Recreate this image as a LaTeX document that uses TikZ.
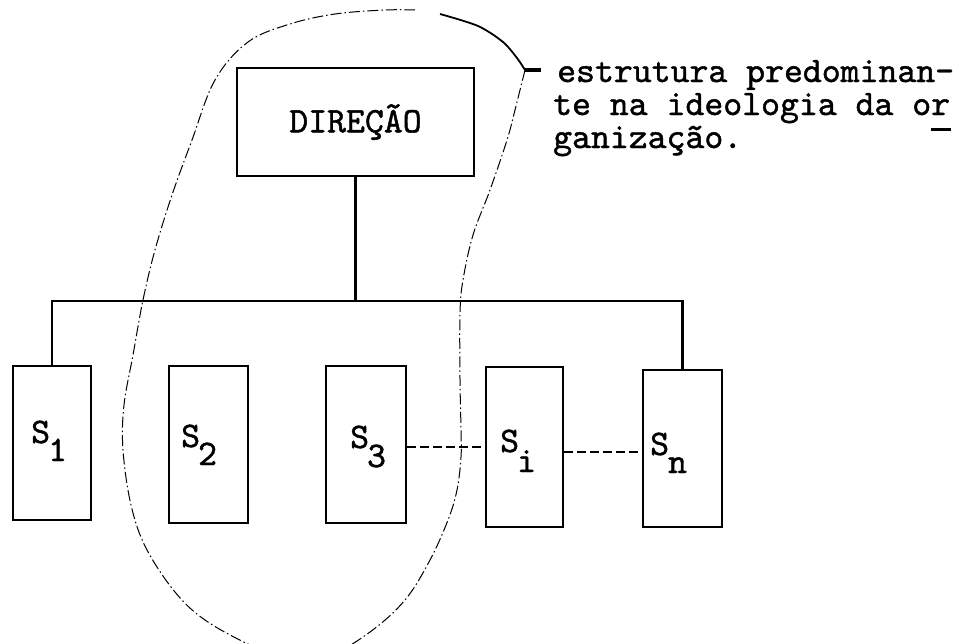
\documentclass[tikz,border=0pt]{standalone}
\usepackage{fontspec}
\newfontfamily\typer[FakeBold=1.2]{lmmono10-regular.otf}
\begin{document}
\begin{tikzpicture}[x=1pt,y=-1pt,
  tw/.style={font=\typer\fontsize{36}{33}\selectfont},
  unit/.style={draw, line width=2.9pt, inner sep=0pt},
  wire/.style={line width=2.9pt},
  dots/.style={line width=2.6pt, dash pattern=on 9pt off 4pt},
  loopline/.style={line width=1pt, dash pattern=on 11pt off 3pt on 1.5pt off 3pt},
  lab/.style={tw, anchor=base west, inner sep=0pt}]

\fill[white] (0,0) rectangle (976,643);
\useasboundingbox (0,0) rectangle (976,643);

% top box
\node[unit, tw, minimum width=237pt, minimum height=108pt] (dir) at (355.5,122) {DIREÇÃO};

% sector boxes
\node[unit, minimum width=78pt, minimum height=154pt] (s1) at (52,443) {};
\node[unit, minimum width=79pt, minimum height=157pt] (s2) at (208.5,444.5) {};
\node[unit, minimum width=80pt, minimum height=157pt] (s3) at (366,444.5) {};
\node[unit, minimum width=77pt, minimum height=160pt] (si) at (524.5,447) {};
\node[unit, minimum width=79pt, minimum height=157pt] (sn) at (682.5,448.5) {};

% sector labels
\node[lab] (l1) at (31,443) {S\kern-2pt\raisebox{-18pt}{1}};
\node[lab] (l2) at (181,447) {S\kern-2pt\raisebox{-18pt}{2}};
\node[lab] (l3) at (350,448) {S\kern-2pt\raisebox{-19pt}{3}};
\node[lab] (li) at (500,452) {S\kern-2pt\raisebox{-20pt}{i}};
\node[lab] (ln) at (650,455) {S\kern-1pt\raisebox{-18pt}{n}};

% tree wiring
\coordinate (bus) at (355.5,301);
\draw[wire] (dir.south) -- (bus);
\draw[wire] (s1.north) |- (bus) -| (sn.north);

% dashed links between sectors
\draw[dots] (s3.east |- 0,447) -- (si.west |- 0,447);
\draw[dots] (si.east |- 0,452) -- (sn.west |- 0,452);

% annotation (anchored on the baseline of its last line)
\node[tw, anchor=base west, align=left, inner sep=0pt] (note) at (553,148)
  {\hspace*{4pt}estrutura predominan-\\te na ideologia da o\makebox[0pt][l]{\smash{\rule[-16pt]{20pt}{2.6pt}}}r\\ganização.};

% enclosing loop
\begin{scope}
\clip (0,0) rectangle (976,643);
\draw[loopline] plot[smooth, tension=0.6] coordinates {(525,70) (515,110) (507,140) (490,190) (473,235) (463,280) (460,313) (460,380) (461,430) (461,457) (457,490) (448,520) (430,560) (405,600) (370,632) (330,655) (290,660) (250,645) (205,620) (175,592) (146,548) (131,505) (123,450) (124,405) (133,355) (143,300) (155,250) (172,195) (192,140) (215,80) (248,42) (290,24) (335,14) (385,10) (415,10)};
\draw[line width=1.8pt] plot[smooth] coordinates {(440,14) (478,26) (503,42) (517,58) (525,70)};
\end{scope}
\coordinate (tick) at (525,70);
\coordinate (tickend) at (541,70);
\draw[line width=3.2pt] (tick) -- (tickend);

\end{tikzpicture}
\end{document}
